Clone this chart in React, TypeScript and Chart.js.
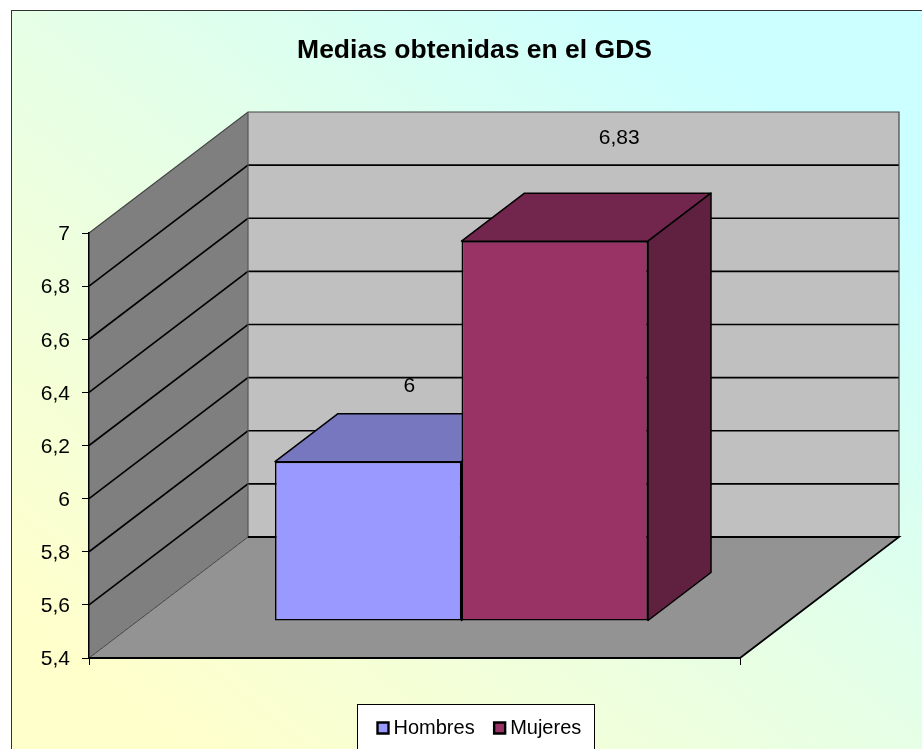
import React, { useEffect, useRef } from "react";
import { Chart, registerables } from "chart.js";

Chart.register(...registerables);

const categories = ["GDS"];
const seriesNames = ["Hombres", "Mujeres"];
const hombres = [6];
const mujeres = [6.83];
const titleText = "Medias obtenidas en el GDS";
const axisMin = 5.4;
const axisMax = 7;
const axisStep = 0.2;

const FONT = "'Liberation Sans', Arial, sans-serif";
const WALL = { dx: 159, dy: 121 };
const BAR_SHIFT = { dx: 47, dy: 37 };
const BAR_DEPTH = { dx: 63, dy: 48 };
const LABEL_OFFSET = [
  { dx: 41, dy: -75 },
  { dx: 64.5, dy: -103 },
];
const FACE_COLORS = [
  { front: "#9999FF", top: "#7777BF", side: "#60609F" },
  { front: "#993366", top: "#73264D", side: "#602040" },
];

const comma = (v: number) => String(Math.round(v * 100) / 100).replace(".", ",");

function poly(ctx: CanvasRenderingContext2D, pts: number[][], fill?: string, stroke?: string, lw = 1) {
  ctx.beginPath();
  pts.forEach((p, i) => (i ? ctx.lineTo(p[0], p[1]) : ctx.moveTo(p[0], p[1])));
  ctx.closePath();
  if (fill) {
    ctx.fillStyle = fill;
    ctx.fill();
  }
  if (stroke) {
    ctx.strokeStyle = stroke;
    ctx.lineWidth = lw;
    ctx.stroke();
  }
}

function line(ctx: CanvasRenderingContext2D, pts: number[][], color: string, lw: number) {
  ctx.beginPath();
  pts.forEach((p, i) => (i ? ctx.lineTo(p[0], p[1]) : ctx.moveTo(p[0], p[1])));
  ctx.strokeStyle = color;
  ctx.lineWidth = lw;
  ctx.stroke();
}

const scene3d = {
  id: "scene3d",
  afterLayout(chart: any) {
    const t = chart.titleBlock;
    t.left = 274.5;
    t.right = 674.5;
    t.width = 400;
    t.top = 35;
    t.bottom = 67;
    const l = chart.legend;
    l.left = 358;
    l.right = 900;
    l.width = 542;
    l.top = 693.5;
    l.bottom = 745;
  },
  afterUpdate(chart: any) {
    chart.scales.y.getLabelItems().forEach((item: any) => {
      item.textOffset += 1.5;
    });
  },
  beforeDraw(chart: any) {
    const { ctx, chartArea: a, scales } = chart;
    const W = chart.width;
    const H = chart.height;
    ctx.save();
    const g = ctx.createLinearGradient(105, 825, 827, -65);
    g.addColorStop(0.1, "#FFFFCC");
    g.addColorStop(0.5, "#E6FFE6");
    g.addColorStop(0.85, "#CCFFFF");
    ctx.fillStyle = "#FFFFFF";
    ctx.fillRect(0, 0, W, H);
    ctx.fillStyle = g;
    ctx.fillRect(11.5, 10.5, W, H);
    ctx.strokeStyle = "#333333";
    ctx.lineWidth = 1;
    ctx.strokeRect(11.5, 10.5, W + 20, H + 20);

    const { left: L, right: R, top: T, bottom: B } = a;
    const { dx, dy } = WALL;
    poly(ctx, [[L, T], [L + dx, T - dy], [L + dx, B - dy], [L, B]], "#7F7F7F");
    poly(ctx, [[L + dx, T - dy], [R + dx, T - dy], [R + dx, B - dy], [L + dx, B - dy]], "#C0C0C0");
    poly(ctx, [[L, B], [L + dx, B - dy], [R + dx, B - dy], [R, B]], "#939393");

    const yScale = scales.y;
    yScale.ticks.forEach((tick: any, i: number) => {
      const y = yScale.getPixelForTick(i);
      if (tick.value > axisMin + 1e-6 && tick.value < axisMax - 1e-6) {
        line(ctx, [[L, y], [L + dx, y - dy], [R + dx, y - dy]], "#000000", 1.6);
      }
    });
    line(ctx, [[L, T], [L + dx, T - dy], [R + dx, T - dy], [R + dx, B - dy]], "#444444", 1.2);
    line(ctx, [[L + dx, T - dy], [L + dx, B - dy]], "#555555", 1.2);
    line(ctx, [[L, B], [L + dx, B - dy]], "#444444", 1);
    line(ctx, [[L + dx, B - dy], [R + dx, B - dy], [R, B]], "#000000", 1.8);

    ctx.fillStyle = "#FFFFFF";
    ctx.fillRect(357.5, 704.5, 237, 60);
    ctx.strokeStyle = "#000000";
    ctx.lineWidth = 1;
    ctx.strokeRect(357.5, 704.5, 237, 60);
    ctx.restore();
  },
  beforeDatasetsDraw(chart: any) {
    const { ctx } = chart;
    ctx.save();
    [0, 1].forEach((i) => {
      const bar = chart.getDatasetMeta(i).data[0];
      const { x, y, width, base } = bar.getProps(["x", "y", "width", "base"], true);
      const l = x - width / 2 + BAR_SHIFT.dx;
      const r = x + width / 2 + BAR_SHIFT.dx;
      const t = y - BAR_SHIFT.dy;
      const b = base - BAR_SHIFT.dy;
      const { dx, dy } = BAR_DEPTH;
      ctx.lineJoin = "round";
      poly(ctx, [[l, t], [r, t], [r + dx, t - dy], [l + dx, t - dy]], FACE_COLORS[i].top, "#000000", 1.5);
      poly(ctx, [[r, t], [r + dx, t - dy], [r + dx, b - dy], [r, b]], FACE_COLORS[i].side, "#000000", 1.5);
    });
    ctx.restore();
    ctx.save();
    ctx.translate(BAR_SHIFT.dx, -BAR_SHIFT.dy);
  },
  afterDatasetsDraw(chart: any) {
    const { ctx } = chart;
    ctx.restore();
    ctx.save();
    ctx.font = `21px ${FONT}`;
    ctx.fillStyle = "#000000";
    ctx.textAlign = "center";
    ctx.textBaseline = "middle";
    chart.data.datasets.forEach((ds: any, i: number) => {
      const bar = chart.getDatasetMeta(i).data[0];
      const { x, y } = bar.getProps(["x", "y"], true);
      ctx.fillText(
        comma(ds.data[0]),
        x + BAR_SHIFT.dx + LABEL_OFFSET[i].dx,
        y - BAR_SHIFT.dy + LABEL_OFFSET[i].dy
      );
    });
    ctx.restore();
  },
};

export default function App() {
  const ref = useRef<HTMLCanvasElement>(null);
  useEffect(() => {
    document.body.style.margin = "0";
    const chart = new Chart(ref.current as HTMLCanvasElement, {
      type: "bar",
      data: {
        labels: categories,
        datasets: [
          {
            label: seriesNames[0],
            data: hombres,
            base: axisMin,
            backgroundColor: FACE_COLORS[0].front,
            borderColor: "#000000",
            borderWidth: 1.6,
            borderSkipped: false,
            clip: false as any,
            pointStyle: "rect",
          },
          {
            label: seriesNames[1],
            data: mujeres,
            base: axisMin,
            backgroundColor: FACE_COLORS[1].front,
            borderColor: "#000000",
            borderWidth: 1.6,
            borderSkipped: false,
            clip: false as any,
            pointStyle: "rect",
          },
        ],
      },
      options: {
        responsive: false,
        animation: false,
        datasets: { bar: { categoryPercentage: 373 / 651, barPercentage: 1 } },
        layout: { padding: { left: 0, right: 182, top: 233 - 31.8, bottom: 91 - 20 } },
        scales: {
          x: {
            afterFit: (s: any) => {
              s.height = 0;
            },
            ticks: { display: false },
            grid: { drawOnChartArea: false, drawTicks: true, tickLength: 7, color: "#000000", lineWidth: 1 },
            border: { display: true, color: "#000000", width: 2 },
          },
          y: {
            min: axisMin,
            max: axisMax,
            afterFit: (s: any) => {
              s.width = 89;
            },
            ticks: {
              stepSize: axisStep,
              autoSkip: false,
              padding: 12,
              color: "#000000",
              font: { family: FONT, size: 21 },
              callback: (v: any) => comma(Number(v)),
            },
            grid: { drawOnChartArea: false, drawTicks: true, tickLength: 7, color: "#000000", lineWidth: 1 },
            border: { display: true, color: "#000000", width: 1.5 },
          },
        },
        plugins: {
          tooltip: { enabled: false },
          title: {
            display: true,
            text: titleText,
            color: "#000000",
            padding: 0,
            font: { family: FONT, size: 26.5, weight: "bold" },
          },
          legend: {
            display: true,
            position: "bottom",
            align: "start",
            maxHeight: 20,
            labels: {
              usePointStyle: true,
              boxWidth: 1,
              boxHeight: 11,
              padding: 24.5,
              color: "#000000",
              font: { family: FONT, size: 20, lineHeight: 1 },
              generateLabels: (c: any) =>
                (Chart.defaults.plugins.legend.labels as any).generateLabels(c).map((it: any) => ({
                  ...it,
                  lineWidth: 2.4,
                })),
            },
          },
        },
      } as any,
      plugins: [scene3d],
    });
    return () => chart.destroy();
  }, []);
  return <canvas ref={ref} width={922} height={749} style={{ display: "block", position: "fixed", left: 0, top: 0 }} />;
}
